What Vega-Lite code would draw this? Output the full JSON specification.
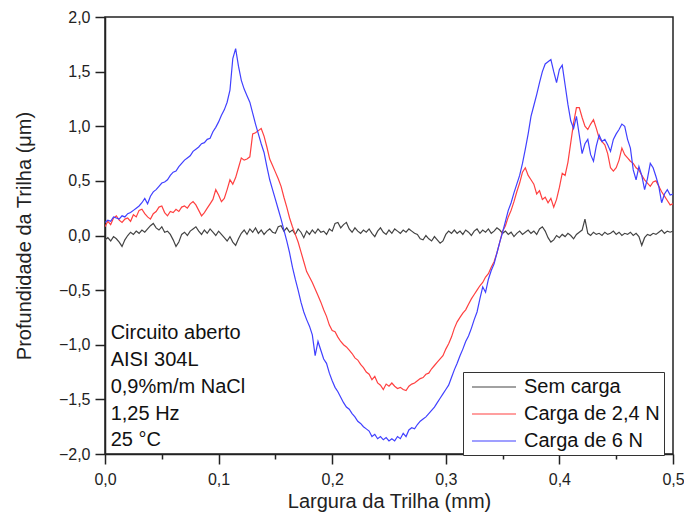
{
"$schema": "https://vega.github.io/schema/vega-lite/v6.json",
"width": 568, "height": 437,
"autosize": {"type": "none"},
"padding": {"left": 105, "top": 17, "right": 11, "bottom": 73},
"background": "white",
"config": {"font": "Liberation Sans", "view": {"stroke": "#222", "strokeWidth": 1.5}},
"layer": [
{
"data": {"values": [
{"x":0,"k":-0.04,"r":0.08,"b":0.12},{"x":0.0025,"k":-0.02,"r":0.13,"b":0.14},{"x":0.005,"k":-0.05,"r":0.10,"b":0.13},{"x":0.0075,"k":-0.01,"r":0.16,"b":0.17},{"x":0.01,"k":-0.03,"r":0.18,"b":0.16},
{"x":0.0125,"k":-0.06,"r":0.14,"b":0.15},{"x":0.015,"k":-0.10,"r":0.12,"b":0.18},{"x":0.0175,"k":-0.04,"r":0.15,"b":0.17},{"x":0.02,"k":0.00,"r":0.16,"b":0.20},{"x":0.0225,"k":0.03,"r":0.13,"b":0.21},
{"x":0.025,"k":0.01,"r":0.19,"b":0.23},{"x":0.0275,"k":0.04,"r":0.17,"b":0.25},{"x":0.03,"k":0.02,"r":0.23,"b":0.27},{"x":0.0325,"k":0.05,"r":0.24,"b":0.30},{"x":0.035,"k":0.03,"r":0.20,"b":0.34},
{"x":0.0375,"k":0.06,"r":0.17,"b":0.29},{"x":0.04,"k":0.09,"r":0.15,"b":0.36},{"x":0.0425,"k":0.11,"r":0.20,"b":0.40},{"x":0.045,"k":0.07,"r":0.22,"b":0.42},{"x":0.0475,"k":0.05,"r":0.26,"b":0.45},
{"x":0.05,"k":0.08,"r":0.27,"b":0.48},{"x":0.0525,"k":0.03,"r":0.21,"b":0.49},{"x":0.055,"k":0.04,"r":0.18,"b":0.51},{"x":0.0575,"k":0.01,"r":0.22,"b":0.55},{"x":0.06,"k":-0.04,"r":0.21,"b":0.58},
{"x":0.0625,"k":-0.10,"r":0.24,"b":0.59},{"x":0.065,"k":-0.06,"r":0.22,"b":0.63},{"x":0.0675,"k":0.01,"r":0.26,"b":0.66},{"x":0.07,"k":0.03,"r":0.27,"b":0.69},{"x":0.0725,"k":0.00,"r":0.25,"b":0.71},
{"x":0.075,"k":0.04,"r":0.29,"b":0.73},{"x":0.0775,"k":0.06,"r":0.31,"b":0.77},{"x":0.08,"k":0.08,"r":0.28,"b":0.79},{"x":0.0825,"k":0.04,"r":0.23,"b":0.81},{"x":0.085,"k":0.01,"r":0.18,"b":0.84},
{"x":0.0875,"k":0.05,"r":0.21,"b":0.85},{"x":0.09,"k":0.02,"r":0.25,"b":0.88},{"x":0.0925,"k":0.06,"r":0.29,"b":0.89},{"x":0.095,"k":0.03,"r":0.33,"b":0.95},{"x":0.0975,"k":0.00,"r":0.42,"b":0.99},
{"x":0.1,"k":0.04,"r":0.37,"b":1.04},{"x":0.1025,"k":0.01,"r":0.31,"b":1.10},{"x":0.105,"k":-0.02,"r":0.34,"b":1.15},{"x":0.1075,"k":-0.05,"r":0.42,"b":1.22},{"x":0.11,"k":-0.01,"r":0.51,"b":1.33},
{"x":0.1125,"k":-0.06,"r":0.47,"b":1.62},{"x":0.115,"k":-0.09,"r":0.53,"b":1.71},{"x":0.1175,"k":-0.03,"r":0.62,"b":1.55},{"x":0.12,"k":0.02,"r":0.71,"b":1.42},{"x":0.1225,"k":0.05,"r":0.69,"b":1.34},
{"x":0.125,"k":0.01,"r":0.70,"b":1.28},{"x":0.1275,"k":0.06,"r":0.72,"b":1.22},{"x":0.13,"k":0.03,"r":0.93,"b":1.12},{"x":0.1325,"k":0.07,"r":0.94,"b":1.02},{"x":0.135,"k":0.02,"r":0.96,"b":0.93},
{"x":0.1375,"k":0.05,"r":0.98,"b":0.84},{"x":0.14,"k":0.01,"r":0.91,"b":0.76},{"x":0.1425,"k":0.04,"r":0.81,"b":0.63},{"x":0.145,"k":0.06,"r":0.70,"b":0.51},{"x":0.1475,"k":0.03,"r":0.64,"b":0.42},
{"x":0.15,"k":0.02,"r":0.58,"b":0.33},{"x":0.1525,"k":0.08,"r":0.52,"b":0.24},{"x":0.155,"k":0.09,"r":0.45,"b":0.15},{"x":0.1575,"k":0.04,"r":0.35,"b":0.05},{"x":0.16,"k":0.07,"r":0.26,"b":-0.05},
{"x":0.1625,"k":0.03,"r":0.16,"b":-0.16},{"x":0.165,"k":0.05,"r":0.08,"b":-0.29},{"x":0.1675,"k":0.01,"r":0.01,"b":-0.40},{"x":0.17,"k":0.06,"r":-0.06,"b":-0.50},{"x":0.1725,"k":0.03,"r":-0.15,"b":-0.61},
{"x":0.175,"k":-0.02,"r":-0.24,"b":-0.70},{"x":0.1775,"k":0.04,"r":-0.33,"b":-0.77},{"x":0.18,"k":0.01,"r":-0.38,"b":-0.83},{"x":0.1825,"k":0.05,"r":-0.43,"b":-0.91},{"x":0.185,"k":0.02,"r":-0.49,"b":-1.10},
{"x":0.1875,"k":0.06,"r":-0.55,"b":-0.97},{"x":0.19,"k":0.03,"r":-0.61,"b":-1.05},{"x":0.1925,"k":0.04,"r":-0.68,"b":-1.13},{"x":0.195,"k":0.01,"r":-0.74,"b":-1.17},{"x":0.1975,"k":0.06,"r":-0.82,"b":-1.26},
{"x":0.2,"k":0.04,"r":-0.87,"b":-1.33},{"x":0.2025,"k":0.11,"r":-0.88,"b":-1.39},{"x":0.205,"k":0.12,"r":-0.93,"b":-1.43},{"x":0.2075,"k":0.07,"r":-0.97,"b":-1.48},{"x":0.21,"k":0.10,"r":-1.00,"b":-1.53},
{"x":0.2125,"k":0.12,"r":-1.02,"b":-1.57},{"x":0.215,"k":0.06,"r":-1.05,"b":-1.59},{"x":0.2175,"k":0.03,"r":-1.08,"b":-1.63},{"x":0.22,"k":0.07,"r":-1.12,"b":-1.66},{"x":0.2225,"k":0.04,"r":-1.14,"b":-1.70},
{"x":0.225,"k":0.02,"r":-1.18,"b":-1.72},{"x":0.2275,"k":0.05,"r":-1.21,"b":-1.75},{"x":0.23,"k":0.03,"r":-1.25,"b":-1.77},{"x":0.2325,"k":0.06,"r":-1.27,"b":-1.79},{"x":0.235,"k":0.02,"r":-1.32,"b":-1.84},
{"x":0.2375,"k":-0.01,"r":-1.29,"b":-1.82},{"x":0.24,"k":0.04,"r":-1.35,"b":-1.86},{"x":0.2425,"k":0.07,"r":-1.37,"b":-1.84},{"x":0.245,"k":0.03,"r":-1.41,"b":-1.87},{"x":0.2475,"k":0.01,"r":-1.36,"b":-1.85},
{"x":0.25,"k":0.05,"r":-1.38,"b":-1.88},{"x":0.2525,"k":0.02,"r":-1.35,"b":-1.86},{"x":0.255,"k":0.06,"r":-1.38,"b":-1.88},{"x":0.2575,"k":0.04,"r":-1.40,"b":-1.84},{"x":0.26,"k":0.02,"r":-1.39,"b":-1.86},
{"x":0.2625,"k":0.05,"r":-1.41,"b":-1.81},{"x":0.265,"k":0.03,"r":-1.42,"b":-1.84},{"x":0.2675,"k":0.06,"r":-1.38,"b":-1.78},{"x":0.27,"k":0.04,"r":-1.36,"b":-1.76},{"x":0.2725,"k":0.02,"r":-1.35,"b":-1.77},
{"x":0.275,"k":0.01,"r":-1.33,"b":-1.73},{"x":0.2775,"k":-0.03,"r":-1.31,"b":-1.70},{"x":0.28,"k":-0.04,"r":-1.30,"b":-1.68},{"x":0.2825,"k":0.00,"r":-1.27,"b":-1.66},{"x":0.285,"k":-0.03,"r":-1.26,"b":-1.63},
{"x":0.2875,"k":-0.05,"r":-1.22,"b":-1.60},{"x":0.29,"k":-0.01,"r":-1.19,"b":-1.57},{"x":0.2925,"k":-0.04,"r":-1.16,"b":-1.53},{"x":0.295,"k":-0.07,"r":-1.13,"b":-1.49},{"x":0.2975,"k":-0.05,"r":-1.10,"b":-1.45},
{"x":0.3,"k":0.01,"r":-1.04,"b":-1.41},{"x":0.3025,"k":0.04,"r":-0.99,"b":-1.37},{"x":0.305,"k":0.02,"r":-0.93,"b":-1.30},{"x":0.3075,"k":0.05,"r":-0.85,"b":-1.23},{"x":0.31,"k":0.02,"r":-0.79,"b":-1.17},
{"x":0.3125,"k":0.04,"r":-0.75,"b":-1.10},{"x":0.315,"k":0.01,"r":-0.71,"b":-1.04},{"x":0.3175,"k":0.05,"r":-0.68,"b":-0.97},{"x":0.32,"k":0.03,"r":-0.63,"b":-0.92},{"x":0.3225,"k":0.00,"r":-0.58,"b":-0.85},
{"x":0.325,"k":0.04,"r":-0.54,"b":-0.77},{"x":0.3275,"k":0.06,"r":-0.50,"b":-0.70},{"x":0.33,"k":0.02,"r":-0.46,"b":-0.58},{"x":0.3325,"k":0.05,"r":-0.43,"b":-0.47},{"x":0.335,"k":0.03,"r":-0.38,"b":-0.52},
{"x":0.3375,"k":0.06,"r":-0.35,"b":-0.40},{"x":0.34,"k":0.02,"r":-0.29,"b":-0.32},{"x":0.3425,"k":0.04,"r":-0.24,"b":-0.26},{"x":0.345,"k":0.07,"r":-0.16,"b":-0.16},{"x":0.3475,"k":0.05,"r":-0.06,"b":-0.06},
{"x":0.35,"k":0.02,"r":0.04,"b":0.03},{"x":0.3525,"k":0.04,"r":0.09,"b":0.13},{"x":0.355,"k":0.01,"r":0.17,"b":0.23},{"x":0.3575,"k":0.03,"r":0.23,"b":0.30},{"x":0.36,"k":-0.01,"r":0.31,"b":0.39},
{"x":0.3625,"k":0.02,"r":0.40,"b":0.47},{"x":0.365,"k":0.04,"r":0.48,"b":0.55},{"x":0.3675,"k":0.01,"r":0.58,"b":0.66},{"x":0.37,"k":0.03,"r":0.62,"b":0.79},{"x":0.3725,"k":0.05,"r":0.55,"b":0.93},
{"x":0.375,"k":0.02,"r":0.51,"b":1.09},{"x":0.3775,"k":0.04,"r":0.47,"b":1.19},{"x":0.38,"k":0.01,"r":0.38,"b":1.29},{"x":0.3825,"k":0.06,"r":0.41,"b":1.40},{"x":0.385,"k":0.08,"r":0.33,"b":1.50},
{"x":0.3875,"k":0.04,"r":0.35,"b":1.57},{"x":0.39,"k":-0.02,"r":0.30,"b":1.59},{"x":0.3925,"k":-0.06,"r":0.34,"b":1.61},{"x":0.395,"k":-0.04,"r":0.26,"b":1.50},{"x":0.3975,"k":0.00,"r":0.33,"b":1.40},
{"x":0.4,"k":-0.02,"r":0.44,"b":1.52},{"x":0.4025,"k":0.01,"r":0.57,"b":1.56},{"x":0.405,"k":-0.01,"r":0.55,"b":1.38},{"x":0.4075,"k":0.02,"r":0.67,"b":1.20},{"x":0.41,"k":0.00,"r":0.85,"b":1.05},
{"x":0.4125,"k":-0.03,"r":1.03,"b":0.98},{"x":0.415,"k":0.01,"r":1.17,"b":1.09},{"x":0.4175,"k":0.03,"r":1.17,"b":0.92},{"x":0.42,"k":0.05,"r":1.08,"b":0.75},{"x":0.4225,"k":0.15,"r":1.00,"b":0.84},
{"x":0.425,"k":0.02,"r":0.97,"b":0.88},{"x":0.4275,"k":0.00,"r":1.02,"b":0.74},{"x":0.43,"k":0.03,"r":1.06,"b":0.68},{"x":0.4325,"k":0.01,"r":0.98,"b":0.82},{"x":0.435,"k":0.02,"r":0.89,"b":0.92},
{"x":0.4375,"k":0.00,"r":0.86,"b":0.86},{"x":0.44,"k":0.03,"r":0.83,"b":0.88},{"x":0.4425,"k":0.01,"r":0.75,"b":0.83},{"x":0.445,"k":0.02,"r":0.62,"b":0.77},{"x":0.4475,"k":0.04,"r":0.59,"b":0.88},
{"x":0.45,"k":0.01,"r":0.62,"b":0.93},{"x":0.4525,"k":0.03,"r":0.69,"b":0.97},{"x":0.455,"k":0.00,"r":0.80,"b":1.02},{"x":0.4575,"k":0.02,"r":0.74,"b":1.00},{"x":0.46,"k":0.01,"r":0.71,"b":0.88},
{"x":0.4625,"k":0.03,"r":0.68,"b":0.80},{"x":0.465,"k":0.00,"r":0.66,"b":0.60},{"x":0.4675,"k":0.02,"r":0.62,"b":0.51},{"x":0.47,"k":-0.01,"r":0.60,"b":0.63},{"x":0.4725,"k":-0.09,"r":0.55,"b":0.55},
{"x":0.475,"k":-0.02,"r":0.51,"b":0.42},{"x":0.4775,"k":0.01,"r":0.48,"b":0.52},{"x":0.48,"k":0.00,"r":0.45,"b":0.66},{"x":0.4825,"k":0.02,"r":0.49,"b":0.62},{"x":0.485,"k":0.01,"r":0.50,"b":0.54},
{"x":0.4875,"k":0.03,"r":0.45,"b":0.45},{"x":0.49,"k":0.05,"r":0.40,"b":0.30},{"x":0.4925,"k":0.02,"r":0.36,"b":0.38},{"x":0.495,"k":0.04,"r":0.32,"b":0.42},{"x":0.4975,"k":0.03,"r":0.28,"b":0.37},
{"x":0.5,"k":0.04,"r":0.29,"b":0.38}
]},
"transform": [{"fold": ["k", "r", "b"], "as": ["serie", "y"]}],
"mark": {"type": "line", "strokeWidth": 1.2, "clip": true},
"encoding": {
"x": {"field": "x", "type": "quantitative", "scale": {"domain": [0, 0.5], "nice": false, "zero": false},
 "axis": {"title": "Largura da Trilha (mm)", "values": [0,0.05,0.1,0.15,0.2,0.25,0.3,0.35,0.4,0.45,0.5],
  "labelExpr": "round(datum.value*20)%2==0 ? replace(format(datum.value,'.1f'),'.',',') : ''",
  "tickSize": {"condition": {"test": "round(datum.value*20)%2==0", "value": 10}, "value": 5},
  "labelFontSize": 16, "labelColor": "#222", "labelPadding": 7, "labelOverlap": false, "labelFlush": false,
  "titleFontSize": 20, "titleFontWeight": "normal", "titleColor": "#222", "titlePadding": 4,
  "domainColor": "#222", "domainWidth": 1.5, "tickColor": "#222", "tickWidth": 1.5, "grid": false}},
"y": {"field": "y", "type": "quantitative", "scale": {"domain": [-2, 2], "nice": false, "zero": false},
 "axis": {"title": "Profundidade da Trilha (μm)", "values": [-2,-1.75,-1.5,-1.25,-1,-0.75,-0.5,-0.25,0,0.25,0.5,0.75,1,1.25,1.5,1.75,2],
  "labelExpr": "round(datum.value*4)%2==0 ? replace(format(datum.value,'.1f'),'.',',') : ''",
  "tickSize": {"condition": {"test": "round(datum.value*4)%2==0", "value": 10}, "value": 5},
  "labelFontSize": 16, "labelColor": "#222", "labelPadding": 5, "labelOverlap": false, "labelFlush": false,
  "titleFontSize": 20, "titleFontWeight": "normal", "titleColor": "#222", "titlePadding": 24,
  "domainColor": "#222", "domainWidth": 1.5, "tickColor": "#222", "tickWidth": 1.5, "grid": false}},
"color": {"field": "serie", "type": "nominal",
 "scale": {"domain": ["k", "r", "b"], "range": ["#444444", "#ff4040", "#4040ff"]},
 "legend": {"orient": "none", "legendX": 358, "legendY": 355, "title": null, "symbolType": "M-2.2,0H2.2", "symbolSize": 400,
  "symbolStrokeWidth": 1.2, "symbolFillColor": "transparent", "symbolOffset": 16, "labelFontSize": 20, "labelColor": "#111", "labelLimit": 300, "labelOffset": 19,
  "strokeColor": "#333", "padding": 4, "rowPadding": 6, "fillColor": "white",
  "labelExpr": "datum.label=='k' ? 'Sem carga' : datum.label=='r' ? 'Carga de 2,4 N' : 'Carga de 6 N'"}}
}
},
{
"data": {"values": [{"note": "Circuito aberto\nAISI 304L\n0,9%m/m NaCl\n1,25 Hz\n25 °C"}]},
"mark": {"type": "text", "align": "left", "baseline": "alphabetic", "fontSize": 20, "lineHeight": 26.8, "lineBreak": "\n", "color": "#111"},
"encoding": {
"x": {"datum": 0.005, "type": "quantitative"},
"y": {"datum": -0.95, "type": "quantitative"},
"text": {"field": "note"}
}
}
]
}
